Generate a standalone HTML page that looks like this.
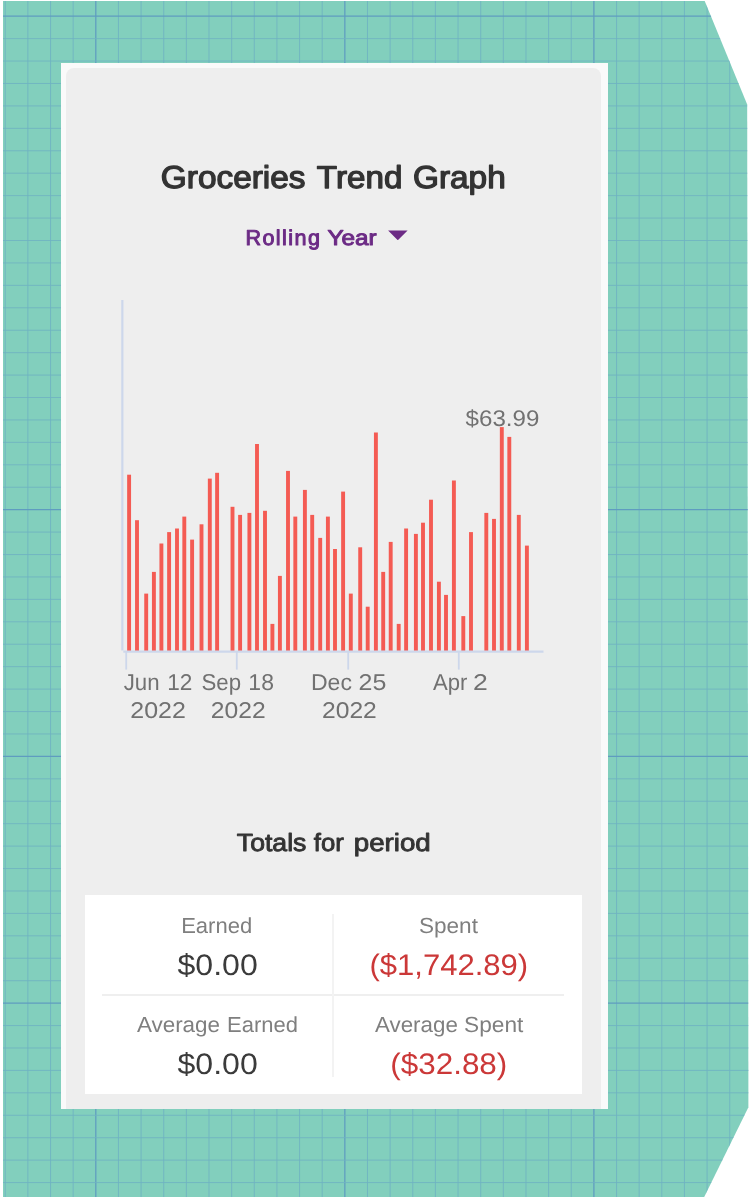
<!DOCTYPE html>
<html lang="en"><head><meta charset="utf-8"><title>Groceries Trend Graph</title>
<style>
html,body{margin:0;padding:0;background:#fff;}
body{width:751px;height:1198px;overflow:hidden;position:relative;font-family:"Liberation Sans",sans-serif;}
svg{position:absolute;left:0;top:0;display:block}
.card{position:absolute;left:61px;top:63px;width:547px;height:1045.7px;background:#fafafa;}
.inner{position:absolute;left:5px;top:4.8px;width:534.8px;height:1040.9px;background:#eeeeee;border-radius:8px 8px 0 0;}
.tbl{position:absolute;left:85px;top:895px;width:497px;height:198.7px;background:#fff;}
.hl{position:absolute;left:102.3px;top:994px;width:462.2px;height:2px;background:#efefef;}
.vl{position:absolute;left:331.9px;top:914px;width:2px;height:163.2px;background:#f3f3f3;}
text{font-family:"Liberation Sans",sans-serif;}
</style></head><body>
<svg width="751" height="1198" viewBox="0 0 751 1198">
<defs><clipPath id="cp"><polygon points="3,1 704.7,1 747.2,104.6 748.4,1107.2 704.2,1196.9 3,1196.9"/></clipPath></defs>
<g clip-path="url(#cp)"><rect width="751" height="1198" fill="#82cfbd"/>
<line x1="5.25" y1="0" x2="5.25" y2="1198" stroke="#6fb2c2" stroke-width="0.85"/><line x1="27.89" y1="0" x2="27.89" y2="1198" stroke="#6fb2c2" stroke-width="0.85"/><line x1="50.53" y1="0" x2="50.53" y2="1198" stroke="#6fb2c2" stroke-width="0.85"/><line x1="73.17" y1="0" x2="73.17" y2="1198" stroke="#6fb2c2" stroke-width="0.85"/><line x1="95.81" y1="0" x2="95.81" y2="1198" stroke="#5f9cc0" stroke-width="1.25"/><line x1="118.45" y1="0" x2="118.45" y2="1198" stroke="#6fb2c2" stroke-width="0.85"/><line x1="141.09" y1="0" x2="141.09" y2="1198" stroke="#6fb2c2" stroke-width="0.85"/><line x1="163.73" y1="0" x2="163.73" y2="1198" stroke="#6fb2c2" stroke-width="0.85"/><line x1="186.37" y1="0" x2="186.37" y2="1198" stroke="#6fb2c2" stroke-width="0.85"/><line x1="209.01" y1="0" x2="209.01" y2="1198" stroke="#6fb2c2" stroke-width="0.85"/><line x1="231.65" y1="0" x2="231.65" y2="1198" stroke="#6fb2c2" stroke-width="0.85"/><line x1="254.29" y1="0" x2="254.29" y2="1198" stroke="#6fb2c2" stroke-width="0.85"/><line x1="276.93" y1="0" x2="276.93" y2="1198" stroke="#6fb2c2" stroke-width="0.85"/><line x1="299.57" y1="0" x2="299.57" y2="1198" stroke="#6fb2c2" stroke-width="0.85"/><line x1="322.21" y1="0" x2="322.21" y2="1198" stroke="#6fb2c2" stroke-width="0.85"/><line x1="344.85" y1="0" x2="344.85" y2="1198" stroke="#5f9cc0" stroke-width="1.25"/><line x1="367.49" y1="0" x2="367.49" y2="1198" stroke="#6fb2c2" stroke-width="0.85"/><line x1="390.13" y1="0" x2="390.13" y2="1198" stroke="#6fb2c2" stroke-width="0.85"/><line x1="412.77" y1="0" x2="412.77" y2="1198" stroke="#6fb2c2" stroke-width="0.85"/><line x1="435.41" y1="0" x2="435.41" y2="1198" stroke="#6fb2c2" stroke-width="0.85"/><line x1="458.05" y1="0" x2="458.05" y2="1198" stroke="#6fb2c2" stroke-width="0.85"/><line x1="480.69" y1="0" x2="480.69" y2="1198" stroke="#6fb2c2" stroke-width="0.85"/><line x1="503.33" y1="0" x2="503.33" y2="1198" stroke="#6fb2c2" stroke-width="0.85"/><line x1="525.97" y1="0" x2="525.97" y2="1198" stroke="#6fb2c2" stroke-width="0.85"/><line x1="548.61" y1="0" x2="548.61" y2="1198" stroke="#6fb2c2" stroke-width="0.85"/><line x1="571.25" y1="0" x2="571.25" y2="1198" stroke="#6fb2c2" stroke-width="0.85"/><line x1="593.89" y1="0" x2="593.89" y2="1198" stroke="#5f9cc0" stroke-width="1.25"/><line x1="616.53" y1="0" x2="616.53" y2="1198" stroke="#6fb2c2" stroke-width="0.85"/><line x1="639.17" y1="0" x2="639.17" y2="1198" stroke="#6fb2c2" stroke-width="0.85"/><line x1="661.81" y1="0" x2="661.81" y2="1198" stroke="#6fb2c2" stroke-width="0.85"/><line x1="684.45" y1="0" x2="684.45" y2="1198" stroke="#6fb2c2" stroke-width="0.85"/><line x1="707.09" y1="0" x2="707.09" y2="1198" stroke="#6fb2c2" stroke-width="0.85"/><line x1="729.73" y1="0" x2="729.73" y2="1198" stroke="#6fb2c2" stroke-width="0.85"/><line x1="0" y1="16.20" x2="751" y2="16.20" stroke="#5f9cc0" stroke-width="1.25"/><line x1="0" y1="38.63" x2="751" y2="38.63" stroke="#6fb2c2" stroke-width="0.85"/><line x1="0" y1="61.06" x2="751" y2="61.06" stroke="#6fb2c2" stroke-width="0.85"/><line x1="0" y1="83.49" x2="751" y2="83.49" stroke="#6fb2c2" stroke-width="0.85"/><line x1="0" y1="105.92" x2="751" y2="105.92" stroke="#6fb2c2" stroke-width="0.85"/><line x1="0" y1="128.35" x2="751" y2="128.35" stroke="#6fb2c2" stroke-width="0.85"/><line x1="0" y1="150.78" x2="751" y2="150.78" stroke="#6fb2c2" stroke-width="0.85"/><line x1="0" y1="173.21" x2="751" y2="173.21" stroke="#6fb2c2" stroke-width="0.85"/><line x1="0" y1="195.64" x2="751" y2="195.64" stroke="#6fb2c2" stroke-width="0.85"/><line x1="0" y1="218.07" x2="751" y2="218.07" stroke="#6fb2c2" stroke-width="0.85"/><line x1="0" y1="240.50" x2="751" y2="240.50" stroke="#6fb2c2" stroke-width="0.85"/><line x1="0" y1="262.93" x2="751" y2="262.93" stroke="#6fb2c2" stroke-width="0.85"/><line x1="0" y1="285.36" x2="751" y2="285.36" stroke="#6fb2c2" stroke-width="0.85"/><line x1="0" y1="307.79" x2="751" y2="307.79" stroke="#6fb2c2" stroke-width="0.85"/><line x1="0" y1="330.22" x2="751" y2="330.22" stroke="#6fb2c2" stroke-width="0.85"/><line x1="0" y1="352.65" x2="751" y2="352.65" stroke="#6fb2c2" stroke-width="0.85"/><line x1="0" y1="375.08" x2="751" y2="375.08" stroke="#6fb2c2" stroke-width="0.85"/><line x1="0" y1="397.51" x2="751" y2="397.51" stroke="#6fb2c2" stroke-width="0.85"/><line x1="0" y1="419.94" x2="751" y2="419.94" stroke="#6fb2c2" stroke-width="0.85"/><line x1="0" y1="442.37" x2="751" y2="442.37" stroke="#6fb2c2" stroke-width="0.85"/><line x1="0" y1="464.80" x2="751" y2="464.80" stroke="#6fb2c2" stroke-width="0.85"/><line x1="0" y1="487.23" x2="751" y2="487.23" stroke="#6fb2c2" stroke-width="0.85"/><line x1="0" y1="509.66" x2="751" y2="509.66" stroke="#5f9cc0" stroke-width="1.25"/><line x1="0" y1="532.09" x2="751" y2="532.09" stroke="#6fb2c2" stroke-width="0.85"/><line x1="0" y1="554.52" x2="751" y2="554.52" stroke="#6fb2c2" stroke-width="0.85"/><line x1="0" y1="576.95" x2="751" y2="576.95" stroke="#6fb2c2" stroke-width="0.85"/><line x1="0" y1="599.38" x2="751" y2="599.38" stroke="#6fb2c2" stroke-width="0.85"/><line x1="0" y1="621.81" x2="751" y2="621.81" stroke="#6fb2c2" stroke-width="0.85"/><line x1="0" y1="644.24" x2="751" y2="644.24" stroke="#6fb2c2" stroke-width="0.85"/><line x1="0" y1="666.67" x2="751" y2="666.67" stroke="#6fb2c2" stroke-width="0.85"/><line x1="0" y1="689.10" x2="751" y2="689.10" stroke="#6fb2c2" stroke-width="0.85"/><line x1="0" y1="711.53" x2="751" y2="711.53" stroke="#6fb2c2" stroke-width="0.85"/><line x1="0" y1="733.96" x2="751" y2="733.96" stroke="#6fb2c2" stroke-width="0.85"/><line x1="0" y1="756.39" x2="751" y2="756.39" stroke="#5f9cc0" stroke-width="1.25"/><line x1="0" y1="778.82" x2="751" y2="778.82" stroke="#6fb2c2" stroke-width="0.85"/><line x1="0" y1="801.25" x2="751" y2="801.25" stroke="#6fb2c2" stroke-width="0.85"/><line x1="0" y1="823.68" x2="751" y2="823.68" stroke="#6fb2c2" stroke-width="0.85"/><line x1="0" y1="846.11" x2="751" y2="846.11" stroke="#6fb2c2" stroke-width="0.85"/><line x1="0" y1="868.54" x2="751" y2="868.54" stroke="#6fb2c2" stroke-width="0.85"/><line x1="0" y1="890.97" x2="751" y2="890.97" stroke="#6fb2c2" stroke-width="0.85"/><line x1="0" y1="913.40" x2="751" y2="913.40" stroke="#6fb2c2" stroke-width="0.85"/><line x1="0" y1="935.83" x2="751" y2="935.83" stroke="#6fb2c2" stroke-width="0.85"/><line x1="0" y1="958.26" x2="751" y2="958.26" stroke="#6fb2c2" stroke-width="0.85"/><line x1="0" y1="980.69" x2="751" y2="980.69" stroke="#6fb2c2" stroke-width="0.85"/><line x1="0" y1="1003.12" x2="751" y2="1003.12" stroke="#5f9cc0" stroke-width="1.25"/><line x1="0" y1="1025.55" x2="751" y2="1025.55" stroke="#6fb2c2" stroke-width="0.85"/><line x1="0" y1="1047.98" x2="751" y2="1047.98" stroke="#6fb2c2" stroke-width="0.85"/><line x1="0" y1="1070.41" x2="751" y2="1070.41" stroke="#6fb2c2" stroke-width="0.85"/><line x1="0" y1="1092.84" x2="751" y2="1092.84" stroke="#6fb2c2" stroke-width="0.85"/><line x1="0" y1="1115.27" x2="751" y2="1115.27" stroke="#6fb2c2" stroke-width="0.85"/><line x1="0" y1="1137.70" x2="751" y2="1137.70" stroke="#6fb2c2" stroke-width="0.85"/><line x1="0" y1="1160.13" x2="751" y2="1160.13" stroke="#6fb2c2" stroke-width="0.85"/><line x1="0" y1="1182.56" x2="751" y2="1182.56" stroke="#6fb2c2" stroke-width="0.85"/>
</g></svg>
<div class="card"><div class="inner"></div></div>
<div class="tbl"></div><div class="hl"></div><div class="vl"></div>
<svg width="751" height="1198" viewBox="0 0 751 1198" style="will-change:transform;text-rendering:geometricPrecision">
<g fill="#f45b53"><rect x="127.15" y="474.70" width="3.9" height="176.30"/><rect x="135.05" y="520.20" width="3.9" height="130.80"/><rect x="144.25" y="593.60" width="3.9" height="57.40"/><rect x="151.95" y="571.90" width="3.9" height="79.10"/><rect x="159.45" y="543.50" width="3.9" height="107.50"/><rect x="167.15" y="532.10" width="3.9" height="118.90"/><rect x="175.05" y="528.50" width="3.9" height="122.50"/><rect x="182.35" y="516.60" width="3.9" height="134.40"/><rect x="190.15" y="539.60" width="3.9" height="111.40"/><rect x="199.55" y="524.30" width="3.9" height="126.70"/><rect x="207.85" y="478.60" width="3.9" height="172.40"/><rect x="215.15" y="472.80" width="3.9" height="178.20"/><rect x="230.55" y="506.80" width="3.9" height="144.20"/><rect x="238.15" y="514.90" width="3.9" height="136.10"/><rect x="247.45" y="512.90" width="3.9" height="138.10"/><rect x="255.05" y="444.00" width="3.9" height="207.00"/><rect x="263.05" y="510.80" width="3.9" height="140.20"/><rect x="270.45" y="623.90" width="3.9" height="27.10"/><rect x="277.95" y="575.90" width="3.9" height="75.10"/><rect x="286.05" y="470.90" width="3.9" height="180.10"/><rect x="293.35" y="516.60" width="3.9" height="134.40"/><rect x="302.95" y="489.90" width="3.9" height="161.10"/><rect x="310.25" y="514.90" width="3.9" height="136.10"/><rect x="318.25" y="537.90" width="3.9" height="113.10"/><rect x="325.95" y="516.60" width="3.9" height="134.40"/><rect x="333.05" y="549.00" width="3.9" height="102.00"/><rect x="341.15" y="491.60" width="3.9" height="159.40"/><rect x="348.85" y="593.60" width="3.9" height="57.40"/><rect x="358.25" y="547.30" width="3.9" height="103.70"/><rect x="365.75" y="606.70" width="3.9" height="44.30"/><rect x="373.95" y="432.50" width="3.9" height="218.50"/><rect x="381.25" y="571.90" width="3.9" height="79.10"/><rect x="388.75" y="541.90" width="3.9" height="109.10"/><rect x="396.75" y="623.90" width="3.9" height="27.10"/><rect x="404.15" y="528.50" width="3.9" height="122.50"/><rect x="413.95" y="533.90" width="3.9" height="117.10"/><rect x="421.05" y="522.70" width="3.9" height="128.30"/><rect x="429.05" y="499.70" width="3.9" height="151.30"/><rect x="436.95" y="581.70" width="3.9" height="69.30"/><rect x="444.05" y="594.90" width="3.9" height="56.10"/><rect x="451.95" y="480.50" width="3.9" height="170.50"/><rect x="461.35" y="616.10" width="3.9" height="34.90"/><rect x="469.05" y="532.10" width="3.9" height="118.90"/><rect x="484.35" y="512.90" width="3.9" height="138.10"/><rect x="492.05" y="518.90" width="3.9" height="132.10"/><rect x="499.85" y="427.10" width="3.9" height="223.90"/><rect x="507.35" y="436.90" width="3.9" height="214.10"/><rect x="516.85" y="514.90" width="3.9" height="136.10"/><rect x="524.95" y="545.60" width="3.9" height="105.40"/></g>
<line x1="122.35" y1="300" x2="122.35" y2="650.6" stroke="#cdd7eb" stroke-width="2.2"/>
<line x1="123.3" y1="651.7" x2="543.5" y2="651.7" stroke="#cdd7eb" stroke-width="2.3"/>
<line x1="126.2" y1="652" x2="126.2" y2="669.6" stroke="#cdd7eb" stroke-width="1.8"/><line x1="236.8" y1="652" x2="236.8" y2="669.6" stroke="#cdd7eb" stroke-width="1.8"/><line x1="348.2" y1="652" x2="348.2" y2="669.6" stroke="#cdd7eb" stroke-width="1.8"/><line x1="458.8" y1="652" x2="458.8" y2="669.6" stroke="#cdd7eb" stroke-width="1.8"/>
<path d="M388.1 230.4 L407.6 230.4 L398.3 239.7 Q397.8 240.2 397.3 239.7 Z" fill="#6c2b85"/>
<text fill="#333333" stroke="#333333" stroke-width="1.3" stroke-linejoin="round"><tspan id="t0" x="160.81" y="188.00" font-size="31.54" textLength="144.74" lengthAdjust="spacingAndGlyphs">Groceries</tspan> <tspan id="t1" x="316.88" y="188.00" font-size="31.54" textLength="85.48" lengthAdjust="spacingAndGlyphs">Trend</tspan> <tspan id="t2" x="412.99" y="188.00" font-size="31.54" textLength="92.72" lengthAdjust="spacingAndGlyphs">Graph</tspan></text>
<text fill="#6c2b85" stroke="#6c2b85" stroke-width="1.0" stroke-linejoin="round"><tspan id="t3" x="245.48" y="245.00" font-size="21.55" textLength="74.41" lengthAdjust="spacing">Rolling</tspan> <tspan id="t4" x="327.59" y="245.00" font-size="21.55" textLength="48.98" lengthAdjust="spacingAndGlyphs">Year</tspan></text>
<text fill="#717171"><tspan id="t5" x="465.60" y="426.00" font-size="22.6" textLength="73.72" lengthAdjust="spacingAndGlyphs">$63.99</tspan></text>
<text fill="#717171"><tspan id="t6" x="123.68" y="690.00" font-size="23.0" textLength="35.85" lengthAdjust="spacingAndGlyphs">Jun</tspan> <tspan id="t7" x="167.13" y="690.00" font-size="22.9" textLength="25.14" lengthAdjust="spacingAndGlyphs">12</tspan> <tspan id="t8" x="130.25" y="718.00" font-size="22.9" textLength="55.54" lengthAdjust="spacingAndGlyphs">2022</tspan></text>
<text fill="#717171"><tspan id="t9" x="201.53" y="690.00" font-size="23.0" textLength="39.56" lengthAdjust="spacingAndGlyphs">Sep</tspan> <tspan id="t10" x="248.36" y="690.00" font-size="22.9" textLength="25.60" lengthAdjust="spacingAndGlyphs">18</tspan> <tspan id="t11" x="210.87" y="718.00" font-size="22.9" textLength="54.86" lengthAdjust="spacingAndGlyphs">2022</tspan></text>
<text fill="#717171"><tspan id="t12" x="310.99" y="690.00" font-size="23.0" textLength="40.98" lengthAdjust="spacingAndGlyphs">Dec</tspan> <tspan id="t13" x="358.62" y="690.00" font-size="22.9" textLength="27.79" lengthAdjust="spacingAndGlyphs">25</tspan> <tspan id="t14" x="322.01" y="718.00" font-size="22.9" textLength="54.80" lengthAdjust="spacingAndGlyphs">2022</tspan></text>
<text fill="#717171"><tspan id="t15" x="432.98" y="690.00" font-size="23.0" textLength="34.37" lengthAdjust="spacingAndGlyphs">Apr</tspan> <tspan id="t16" x="473.13" y="690.00" font-size="22.9" textLength="14.78" lengthAdjust="spacingAndGlyphs">2</tspan></text>
<text fill="#333333" stroke="#333333" stroke-width="0.9" stroke-linejoin="round"><tspan id="t17" x="236.87" y="851.00" font-size="24.8" textLength="69.50" lengthAdjust="spacingAndGlyphs">Totals</tspan> <tspan id="t18" x="313.85" y="851.00" font-size="24.8" textLength="30.00" lengthAdjust="spacingAndGlyphs">for</tspan> <tspan id="t19" x="353.73" y="851.00" font-size="24.8" textLength="77.05" lengthAdjust="spacingAndGlyphs">period</tspan></text>
<text fill="#7f7f7f"><tspan id="t20" x="181.18" y="933.00" font-size="21.8" textLength="71.02" lengthAdjust="spacingAndGlyphs">Earned</tspan></text>
<text fill="#3b3b3b"><tspan id="t21" x="177.44" y="975.00" font-size="29.7" textLength="80.33" lengthAdjust="spacingAndGlyphs">$0.00</tspan></text>
<text fill="#7f7f7f"><tspan id="t22" x="136.90" y="1032.00" font-size="21.8" textLength="83.15" lengthAdjust="spacingAndGlyphs">Average</tspan> <tspan id="t23" x="227.05" y="1032.00" font-size="21.8" textLength="70.86" lengthAdjust="spacingAndGlyphs">Earned</tspan></text>
<text fill="#3b3b3b"><tspan id="t24" x="177.44" y="1074.00" font-size="29.7" textLength="80.33" lengthAdjust="spacingAndGlyphs">$0.00</tspan></text>
<text fill="#7f7f7f"><tspan id="t25" x="418.93" y="933.00" font-size="21.8" textLength="59.03" lengthAdjust="spacingAndGlyphs">Spent</tspan></text>
<text fill="#cb3838"><tspan id="t26" x="369.47" y="975.00" font-size="29.7" textLength="158.74" lengthAdjust="spacingAndGlyphs">($1,742.89)</tspan></text>
<text fill="#7f7f7f"><tspan id="t27" x="374.96" y="1032.00" font-size="21.8" textLength="82.88" lengthAdjust="spacingAndGlyphs">Average</tspan> <tspan id="t28" x="464.02" y="1032.00" font-size="21.8" textLength="59.30" lengthAdjust="spacingAndGlyphs">Spent</tspan></text>
<text fill="#cb3838"><tspan id="t29" x="390.28" y="1074.00" font-size="29.7" textLength="117.04" lengthAdjust="spacingAndGlyphs">($32.88)</tspan></text>

</svg>
</body></html>
